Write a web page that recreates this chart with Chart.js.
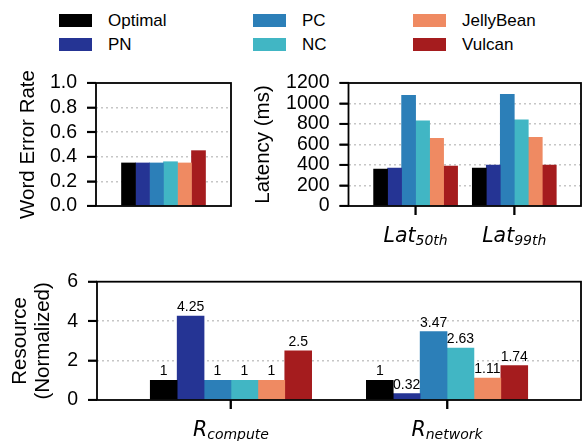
<!DOCTYPE html>
<html>
<head>
<meta charset="utf-8">
<script src="https://cdn.jsdelivr.net/npm/chart.js@4.4.0/dist/chart.umd.min.js"></script>
<style>
  html, body { margin: 0; padding: 0; background: #fff; }
  #page { position: relative; width: 587px; height: 441px; overflow: hidden; font-family: "Liberation Sans", Arial, sans-serif; }
  #page canvas { position: absolute; }
  .leg { position: absolute; height: 13px; font-size: 17px; line-height: 13px; color: #000; white-space: nowrap; }
  .leg span { position: absolute; left: 0; top: 0; width: 33px; height: 13px; }
  .leg b { position: absolute; left: 49px; top: 0; font-weight: normal; }
</style>
</head>
<body>
<div id="page">
  <div id="legend"></div>
  <canvas id="werCanvas" width="245" height="175" style="left:0;top:53px"></canvas>
  <canvas id="latCanvas" width="337" height="200" style="left:250px;top:53px"></canvas>
  <canvas id="resCanvas" width="587" height="181" style="left:0;top:260px"></canvas>
</div>
<script>
// valores
const methods = ['Optimal', 'PN', 'PC', 'NC', 'JellyBean', 'Vulcan'];
const palette = ['#000000', '#253494', '#2c7fb8', '#41b6c4', '#ef8a62', '#a51c1e'];

const werValues = [0.35, 0.35, 0.35, 0.36, 0.35, 0.45];
const werTicks = [0, 0.2, 0.4, 0.6, 0.8, 1.0];

const latGroups = ['50th', '99th'];
const lat50th = [360, 370, 1080, 830, 660, 390];
const lat99th = [370, 400, 1090, 840, 670, 400];
const latTicks = [0, 200, 400, 600, 800, 1000, 1200];

const resGroups = ['compute', 'network'];
const resCompute = [1, 4.25, 1, 1, 1, 2.5];
const resNetwork = [1, 0.32, 3.47, 2.63, 1.11, 1.74];
const resTicks = [0, 2, 4, 6];

const FONT = '"Liberation Sans", Arial, sans-serif';
const TICK_LEN = 9;

// leyenda: 3 columnas x 2 filas
const legCols = [59, 253, 413];
const legRows = [13.5, 37.5];
const legend = document.getElementById('legend');
methods.forEach((m, k) => {
    const d = document.createElement('div');
    d.className = 'leg';
    d.style.left = legCols[Math.floor(k / 2)] + 'px';
    d.style.top = legRows[k % 2] + 'px';
    d.innerHTML = `<span style="background:${palette[k]}"></span><b>${m}</b>`;
    legend.appendChild(d);
});

function ejeY(ticks, fmt, title, width, titlePad, lineHeight) {
    const lo = ticks[0], hi = ticks[ticks.length - 1];
    return {
        min: lo, max: hi,
        afterBuildTicks: s => { s.ticks = ticks.map(v => ({ value: v })); },
        afterFit: s => { s.width = width; },
        ticks: { callback: fmt, autoSkip: false, color: '#000', font: { family: FONT, size: 19.5 }, padding: 10 },
        grid: {
            color: c => (c.tick && c.tick.value > lo && c.tick.value < hi) ? '#c6c6c6' : 'rgba(0,0,0,0)',
            lineWidth: 1.6, tickLength: TICK_LEN, tickColor: '#000', tickWidth: 1.8
        },
        border: { display: false, dash: [2, 3] },
        title: { display: true, text: title, color: '#000', font: { family: FONT, size: 20.5, lineHeight: lineHeight || 1.2 }, padding: { top: titlePad, bottom: 0 } }
    };
}

function ejeXLineal(groups, lo, hi, height) {
    return {
        type: 'linear', min: lo, max: hi, offset: false,
        afterBuildTicks: s => { s.ticks = groups.map((g, i) => ({ value: i })); },
        afterFit: s => { s.height = height; },
        ticks: { display: false, autoSkip: false },
        grid: { offset: false, drawOnChartArea: false, tickLength: TICK_LEN, tickColor: '#000', tickWidth: 1.8 },
        border: { display: false }
    };
}

// marco completo + marcas de los ejes hacia fuera
const marco = {
    id: 'marco',
    afterDatasetsDraw(chart) {
        const a = chart.chartArea, ctx = chart.ctx;
        ctx.save();
        ctx.lineWidth = 1.8;
        ctx.strokeStyle = '#000';
        ctx.strokeRect(a.left, a.top, a.right - a.left, a.bottom - a.top);
        Object.values(chart.scales).forEach(s => {
            if (!s.options.display || !s.options.grid.display) return;
            s.ticks.forEach(t => {
                const p = s.getPixelForValue(t.value);
                ctx.beginPath();
                if (s.isHorizontal()) { ctx.moveTo(p, a.bottom); ctx.lineTo(p, a.bottom + TICK_LEN); }
                else { ctx.moveTo(a.left - TICK_LEN, p); ctx.lineTo(a.left, p); }
                ctx.stroke();
            });
        });
        ctx.restore();
    }
};

// etiquetas tipo mathtext: base en cursiva + subindice
function etiquetasSub(base, groups) {
    return {
        id: 'etiquetasSub',
        afterDraw(chart) {
            const ctx = chart.ctx, x = chart.scales.x;
            const y0 = chart.chartArea.bottom + 36;
            ctx.save();
            ctx.fillStyle = '#000';
            ctx.textBaseline = 'alphabetic';
            ctx.textAlign = 'left';
            groups.forEach((g, i) => {
                const fMain = 'italic 20.5px "DejaVu Sans"', fSub = 'italic 14px "DejaVu Sans"';
                ctx.font = fMain; const w1 = ctx.measureText(base).width;
                ctx.font = fSub; const w2 = ctx.measureText(g).width;
                const cx = x.getPixelForValue(i), sx = cx - (w1 + w2) / 2;
                ctx.font = fMain; ctx.fillText(base, sx, y0);
                ctx.font = fSub; ctx.fillText(g, sx + w1, y0 + 2.5);
            });
            ctx.restore();
        }
    };
}

const valores = {
    id: 'valores',
    afterDatasetsDraw(chart) {
        const ctx = chart.ctx;
        ctx.save();
        ctx.fillStyle = '#000';
        ctx.font = '14px ' + FONT;
        ctx.textAlign = 'center';
        ctx.textBaseline = 'alphabetic';
        chart.data.datasets.forEach((ds, d) => {
            chart.getDatasetMeta(d).data.forEach((bar, i) => {
                ctx.fillText(String(ds.data[i].y), bar.x, bar.y - 5);
            });
        });
        ctx.restore();
    }
};

const base = {
    responsive: false,
    maintainAspectRatio: false,
    animation: false,
    devicePixelRatio: 1,
    plugins: { legend: { display: false }, tooltip: { enabled: false } }
};

// Word Error Rate
new Chart(document.getElementById('werCanvas'), {
    type: 'bar',
    data: {
        labels: [''],
        datasets: methods.map((m, k) => ({ label: m, data: [werValues[k]], backgroundColor: palette[k], borderWidth: 0, barThickness: 14 }))
    },
    options: {
        ...base,
        layout: { padding: { top: 30, left: 0, right: 14, bottom: 22 } },
        scales: {
            x: { display: false },
            y: ejeY(werTicks, v => v.toFixed(1), 'Word Error Rate', 96, 16)
        }
    },
    plugins: [marco]
});

// Latency
const latSeries = [lat50th, lat99th];
new Chart(document.getElementById('latCanvas'), {
    type: 'bar',
    data: {
        datasets: methods.map((m, k) => ({
            label: m,
            data: latGroups.map((g, i) => ({ x: i, y: latSeries[i][k] })),
            backgroundColor: palette[k], borderWidth: 0, barThickness: 14
        }))
    },
    options: {
        ...base,
        layout: { padding: { top: 30, left: 0, right: 6, bottom: 7 } },
        scales: {
            x: ejeXLineal(latGroups, -0.68, 1.676, 40),
            y: ejeY(latTicks, v => String(v), 'Latency (ms)', 98.5, 1)
        }
    },
    plugins: [marco, etiquetasSub('Lat', latGroups)]
});

// Resource (Normalized)
const resSeries = [resCompute, resNetwork];
new Chart(document.getElementById('resCanvas'), {
    type: 'bar',
    data: {
        datasets: methods.map((m, k) => ({
            label: m,
            data: resGroups.map((g, i) => ({ x: i, y: resSeries[i][k] })),
            backgroundColor: palette[k], borderWidth: 0, barThickness: 26.9
        }))
    },
    options: {
        ...base,
        layout: { padding: { top: 20, left: 0, right: 6, bottom: 3 } },
        scales: {
            x: ejeXLineal(resGroups, -0.62, 1.62, 38),
            y: ejeY(resTicks, v => String(v), ['Resource', '(Normalized)'], 97, 8.4, 1.13)
        }
    },
    plugins: [marco, valores, etiquetasSub('R', resGroups)]
});
</script>
</body>
</html>
